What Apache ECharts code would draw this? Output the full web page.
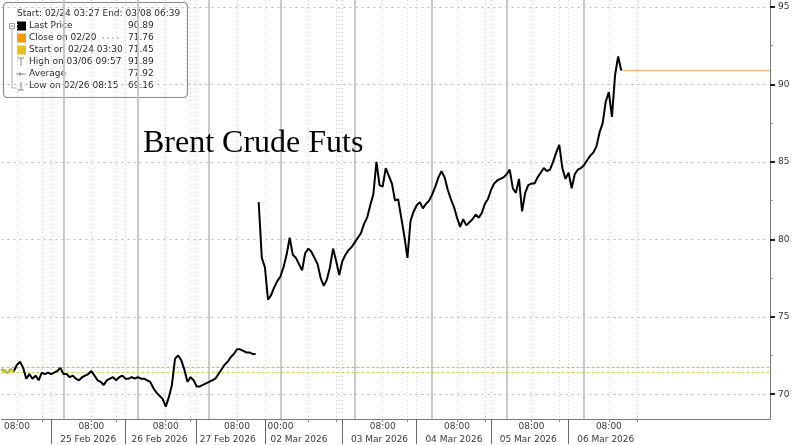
<!DOCTYPE html>
<html><head><meta charset="utf-8">
<script src="https://cdn.jsdelivr.net/npm/echarts@6/dist/echarts.min.js"></script>
<style>html,body{margin:0;padding:0;background:#fff}#c{width:800px;height:445px}</style>
</head><body><div id="c"></div>
<script>
// ---- x categories: one slot per trading hour (weekend removed) ----
const sessionDays = [
  ['24 Feb', 3, 23], ['25 Feb', 0, 23], ['26 Feb', 0, 23], ['27 Feb', 0, 13],
  ['01 Mar', 18, 23], ['02 Mar', 0, 23], ['03 Mar', 0, 23], ['04 Mar', 0, 23],
  ['05 Mar', 0, 23], ['06 Mar', 0, 23], ['07 Mar', 0, 23], ['08 Mar', 0, 15]
];
const categories = [];
sessionDays.forEach(([d, h0, h1]) => { for (let h = h0; h <= h1; h++) categories.push(d + ' ' + String(h).padStart(2, '0') + ':00'); });

// ---- Brent price, 24 Feb 03:00 -> 27 Feb 13:00 ----
const febPrices = [
  71.6, 71.5, 71.4, 71.6, 71.5, 71.9, 72.1, 71.7, 71.0, 71.3,
  71.0, 71.2, 70.9, 71.4, 71.3, 71.4, 71.3, 71.4, 71.5, 71.7,
  71.3, 71.3, 71.1, 71.2, 71.0, 70.9, 71.1, 71.2, 71.3, 71.5,
  71.2, 70.9, 70.8, 70.6, 70.9, 71.0, 71.1, 70.9, 71.1, 71.2,
  71.0, 71.0, 71.1, 71.0, 71.1, 71.0, 71.0, 70.9, 70.8, 70.4,
  70.1, 69.9, 69.7, 69.2, 69.8, 70.6, 72.3, 72.5, 72.2, 71.6,
  70.8, 71.1, 70.9, 70.5, 70.5, 70.6, 70.7, 70.8, 70.9, 71.0,
  71.3, 71.6, 71.9, 72.1, 72.4, 72.6, 72.9, 72.9, 72.8, 72.7,
  72.7, 72.6, 72.6
];
// ---- Brent price, 01 Mar 18:00 -> 06 Mar ----
const marPrices = [
  82.4, 78.8, 78.2, 76.1, 76.4, 76.9, 77.3, 77.6, 78.2, 79.0,
  80.1, 79.0, 78.8, 78.4, 78.0, 79.1, 79.4, 79.2, 78.8, 78.4,
  77.5, 77.0, 77.4, 78.2, 79.4, 78.6, 77.7, 78.6, 79.0, 79.3,
  79.5, 79.8, 80.1, 80.4, 81.0, 81.4, 82.2, 82.9, 85.0, 83.5,
  83.4, 84.6, 84.1, 83.6, 82.5, 82.6, 81.4, 80.2, 78.8, 81.2,
  81.8, 82.2, 82.4, 82.0, 82.3, 82.5, 82.9, 83.4, 84.0, 84.4,
  84.0, 83.2, 82.6, 82.1, 81.4, 80.8, 81.3, 80.9, 81.1, 81.3,
  81.6, 81.4, 81.7, 82.3, 82.6, 83.2, 83.6, 83.8, 83.9, 84.0,
  84.2, 84.5, 83.3, 83.0, 83.9, 81.8, 83.0, 83.5, 83.6, 83.6,
  84.0, 84.3, 84.6, 84.4, 84.5, 85.0, 85.6, 86.1, 84.6, 83.9,
  84.3, 83.3, 84.2, 84.5, 84.6, 84.8, 85.1, 85.4, 85.6, 86.0,
  86.9, 87.5, 88.9, 89.5, 87.9, 90.6, 91.8, 90.9
];

// ---- reference levels ----
const lastPrice = 90.89, closePrev = 71.76, startPrice = 71.45;
const yTicks = [70, 75, 80, 85, 90, 95];
const yMinorTicks = [72.5, 77.5, 82.5, 87.5, 92.5];

// ---- x tick labels (slot index -> text) ----
const timeTickSlots = [5, 29, 53, 76, 90, 123, 147, 171, 196];
const timeTickTexts = ['08:00', '08:00', '08:00', '08:00', '00:00', '08:00', '08:00', '08:00', '08:00'];
const dateLabelSlots = [28, 51, 73, 96, 122, 146, 170, 195];
const dateLabelTexts = ['25 Feb 2026', '26 Feb 2026', '27 Feb 2026', '02 Mar 2026', '03 Mar 2026', '04 Mar 2026', '05 Mar 2026', '06 Mar 2026'];
const daySeparatorSlots = [16, 40, 63, 85, 110, 134, 158, 183];
const sessionLineSlots = [20, 44, 67, 90, 114, 139, 163, 188];
const dottedGridSlots = [5, 13, 29, 37, 53, 61, 76, 99, 108, 123, 131, 147, 156, 171, 180, 196, 205,
  16, 40, 63, 85, 110, 134, 158, 183];

const N = categories.length;
const febStart = 0, marStart = febPrices.length;
const febData = categories.map((c, i) => (i >= febStart && i < febStart + febPrices.length) ? febPrices[i - febStart] : null);
const marData = categories.map((c, i) => (i >= marStart && i < marStart + marPrices.length) ? marPrices[i - marStart] : null);
const startData = categories.map((c, i) => i < 5 ? febPrices[i] : null);
const lastSlot = marStart + marPrices.length - 1;

const timeMap = new Map(timeTickSlots.map((s, k) => [s, timeTickTexts[k]]));
const dateMap = new Map(dateLabelSlots.map((s, k) => [s, dateLabelTexts[k]]));
const sepSet = new Set(daySeparatorSlots);
const gridSet = new Set(dottedGridSlots);

const FONT = 'DejaVu Sans';
const chart = echarts.init(document.getElementById('c'), null, { renderer: 'canvas' });

const legendRows = [
  { label: 'Last Price', value: lastPrice.toFixed(2) },
  { label: 'Close on 02/20', value: closePrev.toFixed(2) },
  { label: 'Start on 02/24 03:30', value: startPrice.toFixed(2) },
  { label: 'High on 03/06 09:57', value: '91.89' },
  { label: 'Average', value: '77.92' },
  { label: 'Low on 02/26 08:15', value: '69.16' }
];
const TXT = '#2a2a2a';
const legendEls = [
  { type: 'rect', shape: { x: 3.5, y: 2.5, width: 184, height: 95, r: 4 }, style: { fill: '#fff', stroke: '#8a8a8a', lineWidth: 1.2 } },
  { type: 'text', x: 17, y: 14, style: { text: 'Start: 02/24 03:27 End: 03/08 06:39', fontSize: 9, fontFamily: FONT, fill: TXT, verticalAlign: 'middle' } },
  { type: 'text', x: 102, y: 38.5, style: { text: '- - - -', fontSize: 7, fontFamily: FONT, fill: TXT, verticalAlign: 'middle' } },
  // tree
  { type: 'line', shape: { x1: 12, y1: 28, x2: 12, y2: 88 }, style: { stroke: '#b0b0b0', lineWidth: 1 } },
  { type: 'line', shape: { x1: 12, y1: 88, x2: 16, y2: 88 }, style: { stroke: '#b0b0b0', lineWidth: 1 } },
  { type: 'rect', shape: { x: 9.5, y: 23.5, width: 5, height: 5 }, style: { fill: '#fff', stroke: '#a0a0a0', lineWidth: 1 } },
  { type: 'line', shape: { x1: 10.5, y1: 26, x2: 13.5, y2: 26 }, style: { stroke: '#808080', lineWidth: 1 } },
  // icons
  { type: 'rect', shape: { x: 17, y: 21.5, width: 9, height: 9 }, style: { fill: '#000' } },
  { type: 'rect', shape: { x: 17, y: 33.5, width: 9, height: 9 }, style: { fill: '#f39a12' } },
  { type: 'rect', shape: { x: 17, y: 45.5, width: 9, height: 9 }, style: { fill: '#e2c21c' } },
  { type: 'line', shape: { x1: 18, y1: 58, x2: 24, y2: 58 }, style: { stroke: '#999', lineWidth: 1.2 } },
  { type: 'line', shape: { x1: 21, y1: 58, x2: 21, y2: 66 }, style: { stroke: '#999', lineWidth: 1.2 } },
  { type: 'line', shape: { x1: 16, y1: 74, x2: 26, y2: 74 }, style: { stroke: '#999', lineWidth: 1 } },
  { type: 'polygon', shape: { points: [[19, 72], [23, 74], [19, 76]] }, style: { fill: '#999' } },
  { type: 'line', shape: { x1: 21, y1: 82, x2: 21, y2: 90 }, style: { stroke: '#999', lineWidth: 1.2 } },
  { type: 'line', shape: { x1: 18, y1: 90, x2: 24, y2: 90 }, style: { stroke: '#999', lineWidth: 1.2 } }
];
legendRows.forEach((r, k) => {
  const y = 26 + 12 * k;
  legendEls.push({ type: 'text', x: 29, y: y, style: { text: r.label, fontSize: 9, fontFamily: FONT, fill: TXT, verticalAlign: 'middle' } });
  legendEls.push({ type: 'text', x: 128, y: y, style: { text: r.value, fontSize: 9, fontFamily: FONT, fill: TXT, verticalAlign: 'middle' } });
});

const option = {
  animation: false,
  backgroundColor: '#fff',
  grid: { left: 1.5, right: 30, top: 0, bottom: 25, containLabel: false },
  xAxis: [{
    type: 'category', data: categories, boundaryGap: false, position: 'bottom',
    axisLine: { show: true, lineStyle: { color: '#7a7a7a', width: 1 } },
    axisTick: { show: true, interval: (i) => sepSet.has(i), length: 25, lineStyle: { color: '#6a6a6a', width: 1 } },
    axisLabel: { show: true, interval: (i) => timeMap.has(i), formatter: (v, i) => timeMap.get(i) || '',
      fontFamily: FONT, fontSize: 9, color: '#3a3a3a', lineHeight: 11, margin: 2, hideOverlap: false },
    splitLine: { show: true, interval: (i) => gridSet.has(i), lineStyle: { color: '#cfcfcf', type: [1, 3], width: 1 } }
  }, {
    type: 'category', data: categories, boundaryGap: false, position: 'bottom', offset: 0,
    axisLine: { show: false },
    axisTick: { show: true, interval: (i) => gridSet.has(i) && !sepSet.has(i), length: 3, lineStyle: { color: '#8a8a8a', width: 1 } },
    axisLabel: { show: true, interval: (i) => dateMap.has(i), formatter: (v, i) => dateMap.get(i) || '',
      fontFamily: FONT, fontSize: 9, color: '#3a3a3a', lineHeight: 11, margin: 15, hideOverlap: false },
    splitLine: { show: false }
  }],
  yAxis: [{
    type: 'value', position: 'right', min: 68.4, max: 95.45, scale: true,
    axisLine: { show: true, lineStyle: { color: '#777', width: 1 } },
    axisTick: { show: true, customValues: yTicks, length: 5, lineStyle: { color: '#222', width: 2 } },
    axisLabel: { customValues: yTicks, fontFamily: FONT, fontSize: 9, color: '#333', margin: 8 },
    splitLine: { show: false }
  }, {
    type: 'value', position: 'right', min: 68.4, max: 95.45, scale: true,
    axisLine: { show: false },
    axisTick: { show: true, customValues: yMinorTicks, length: 3, lineStyle: { color: '#999', width: 1 } },
    axisLabel: { show: false },
    splitLine: { show: false }
  }],
  graphic: [
    { type: 'text', x: 143, y: 144, style: { text: 'Brent Crude Futs', fontSize: 32, fontFamily: 'Liberation Serif', fill: '#000', verticalAlign: 'middle' }, z: 10 },
    { type: 'group', children: legendEls, z: 20 }
  ],
  series: [
    {
      name: 'grid', type: 'line', data: [], z: 1, silent: true,
      markLine: {
        silent: true, symbol: 'none', label: { show: false },
        data: [
          ...yTicks.map(v => ({ yAxis: v, lineStyle: { color: '#b8b8b8', type: [2, 4], width: 1 } })),
          ...sessionLineSlots.map(s => ({ xAxis: s, lineStyle: { color: '#c4c4c4', type: 'solid', width: 1.8 } }))
        ]
      }
    },
    {
      name: 'Close on 02/20', type: 'line', data: [], z: 2, silent: true,
      markLine: { silent: true, symbol: 'none', label: { show: false },
        lineStyle: { color: '#f0a848', type: [3, 2], width: 1 },
        data: [{ yAxis: closePrev }] }
    },
    {
      name: 'Start on 02/24 03:30', type: 'line', data: [], z: 2, silent: true,
      markLine: { silent: true, symbol: 'none', label: { show: false },
        lineStyle: { color: '#dccb52', type: [3, 2], width: 1 },
        data: [{ yAxis: startPrice }] }
    },
    {
      name: 'Last level', type: 'line', data: [], z: 2, silent: true,
      markLine: { silent: true, symbol: 'none', label: { show: false },
        lineStyle: { color: '#f3bd78', type: 'solid', width: 1.3 },
        data: [[{ coord: [lastSlot, lastPrice] }, { coord: [N - 1, lastPrice] }]] }
    },
    { name: 'Last Price', type: 'line', data: febData, showSymbol: false, connectNulls: false, z: 5,
      lineStyle: { color: '#000', width: 2 }, itemStyle: { color: '#000' } },
    { name: 'Last Price ', type: 'line', data: marData, showSymbol: false, connectNulls: false, z: 5,
      lineStyle: { color: '#000', width: 2 }, itemStyle: { color: '#000' } },
    { name: 'Start', type: 'line', data: startData, showSymbol: false, z: 6,
      lineStyle: { color: '#cfc92c', width: 2 } }
  ]
};
chart.setOption(option);
</script>
</body></html>
